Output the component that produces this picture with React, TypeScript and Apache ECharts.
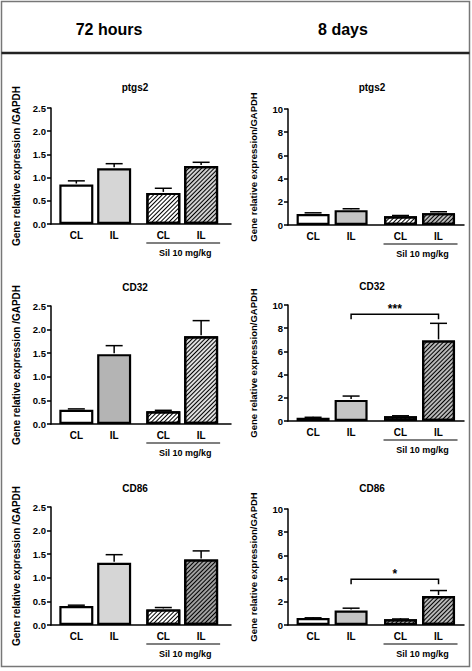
import React, { useEffect, useRef } from "react";
import * as echarts from "echarts";

// ---------- data ----------
const columnTitles = ["72 hours", "8 days"];
const geneNames = ["ptgs2", "CD32", "CD86"];
const barLabels = ["CL", "IL", "CL", "IL"];
const barPositions = [0, 1, 2.3, 3.3];
const treatmentLabel = "Sil 10 mg/kg";
const treatmentRange = [2.3, 3.3];

// 72 hours (means / upper end of error bar)
const ptgs2_72h = [0.85, 1.2, 0.67, 1.25];
const ptgs2_72h_err = [0.93, 1.3, 0.77, 1.33];
const cd32_72h = [0.3, 1.48, 0.27, 1.86];
const cd32_72h_err = [0.32, 1.66, 0.29, 2.19];
const cd86_72h = [0.4, 1.32, 0.33, 1.39];
const cd86_72h_err = [0.42, 1.49, 0.37, 1.57];

// 8 days
const ptgs2_8d = [0.95, 1.28, 0.76, 1.02];
const ptgs2_8d_err = [1.05, 1.4, 0.82, 1.14];
const cd32_8d = [0.28, 1.82, 0.4, 6.95];
const cd32_8d_err = [0.32, 2.15, 0.45, 8.42];
const cd86_8d = [0.6, 1.25, 0.5, 2.5];
const cd86_8d_err = [0.62, 1.45, 0.52, 2.97];

// y axes
const yMax72h = 2.5;
const yStep72h = 0.5;
const yMax8d = 10;
const yStep8d = 2;

// significance brackets: [fromPos, toPos, yValue]
const cd32_8d_bracket = [1, 3.3, 9.2];
const cd32_8d_sig = "***";
const cd86_8d_bracket = [1, 3.3, 3.95];
const cd86_8d_sig = "*";

const yName72h = "Gene relative expression /GAPDH";
const yName8d = "Gene relative expression/GAPDH";

// ---------- layout / styles ----------
const FONT = '"Liberation Sans", Arial, sans-serif';
const W = 472;
const H = 671;

type Panel = {
  col: number;
  row: number;
  means: number[];
  errs: number[];
  ilColor: string;
  silIlColor: string;
  bracket?: number[];
  sig?: string;
};

const panels: Panel[] = [
  { col: 0, row: 0, means: ptgs2_72h, errs: ptgs2_72h_err, ilColor: "#d6d6d6", silIlColor: "#cfcfcf" },
  { col: 0, row: 1, means: cd32_72h, errs: cd32_72h_err, ilColor: "#b4b4b4", silIlColor: "#dedede" },
  { col: 0, row: 2, means: cd86_72h, errs: cd86_72h_err, ilColor: "#d6d6d6", silIlColor: "#a0a0a0" },
  { col: 1, row: 0, means: ptgs2_8d, errs: ptgs2_8d_err, ilColor: "#c4c4c4", silIlColor: "#b8b8b8" },
  { col: 1, row: 1, means: cd32_8d, errs: cd32_8d_err, ilColor: "#c4c4c4", silIlColor: "#b8b8b8", bracket: cd32_8d_bracket, sig: cd32_8d_sig },
  { col: 1, row: 2, means: cd86_8d, errs: cd86_8d_err, ilColor: "#c4c4c4", silIlColor: "#b8b8b8", bracket: cd86_8d_bracket, sig: cd86_8d_sig },
];

const colLayout = [
  { left: 51, width: 180, xMin: -0.67, xMax: 4.09, titleX: 135, yMax: yMax72h, step: yStep72h, yName: yName72h, nameSize: 10, barW: 34 },
  { left: 288, width: 176, xMin: -0.66, xMax: 3.97, titleX: 372, yMax: yMax8d, step: yStep8d, yName: yName8d, nameSize: 9.5, barW: 33 },
];
const rowLayout = [
  [{ top: 108, height: 116, titleY: 87 }, { top: 109, height: 116, titleY: 87 }],
  [{ top: 306, height: 118, titleY: 287 }, { top: 305, height: 116, titleY: 286 }],
  [{ top: 507, height: 118, titleY: 488 }, { top: 509, height: 116, titleY: 488 }],
];

const hatch = {
  symbol: "rect",
  symbolSize: 1,
  color: "#000",
  dashArrayX: [1, 0],
  dashArrayY: [1, 2],
  rotation: -Math.PI / 4,
};

function buildOption() {
  const grid: any[] = [];
  const xAxis: any[] = [];
  const yAxis: any[] = [];
  const series: any[] = [];
  const graphic: any[] = [];

  graphic.push({
    type: "rect",
    shape: { x: 1.5, y: 1.5, width: 468, height: 665 },
    style: { fill: "none", stroke: "#777", lineWidth: 1.5 },
  });
  graphic.push({
    type: "line",
    shape: { x1: 1.5, y1: 53, x2: 469.5, y2: 53 },
    style: { stroke: "#222", lineWidth: 2.5 },
  });
  columnTitles.forEach((t, i) => {
    graphic.push({
      type: "text",
      x: i === 0 ? 109 : 343,
      y: 29,
      style: { text: t, fill: "#000", font: `bold 16px ${FONT}`, align: "center", verticalAlign: "middle" },
    });
  });

  panels.forEach((p, i) => {
    const c = colLayout[p.col];
    const r = rowLayout[p.row][p.col];
    grid.push({ left: c.left, top: r.top, width: c.width, height: r.height, containLabel: false });
    graphic.push({
      type: "text",
      x: c.titleX,
      y: r.titleY,
      style: { text: geneNames[p.row], fill: "#000", font: `bold 10px ${FONT}`, align: "center", verticalAlign: "middle" },
    });
    xAxis.push({
      type: "value",
      gridIndex: i,
      min: c.xMin,
      max: c.xMax,
      splitLine: { show: false },
      axisTick: { show: false },
      axisLine: { show: true, onZero: false, lineStyle: { color: "#000", width: 1.5 } },
      axisLabel: {
        show: true,
        customValues: barPositions,
        margin: 6,
        color: "#000",
        fontWeight: "bold",
        fontSize: 10,
        fontFamily: FONT,
        formatter: (v: number) => {
          let best = 0;
          barPositions.forEach((bp, k) => {
            if (Math.abs(bp - v) < Math.abs(barPositions[best] - v)) best = k;
          });
          return barLabels[best];
        },
      },
    });
    yAxis.push({
      type: "value",
      gridIndex: i,
      min: 0,
      max: c.yMax,
      interval: c.step,
      name: c.yName,
      nameLocation: "middle",
      nameRotate: 90,
      nameGap: 30,
      nameTextStyle: { color: "#000", fontWeight: "bold", fontSize: c.nameSize, fontFamily: FONT },
      splitLine: { show: false },
      axisLine: { show: true, onZero: false, lineStyle: { color: "#000", width: 1.5 } },
      axisTick: { show: true, length: 4, lineStyle: { color: "#000", width: 1.5 } },
      axisLabel: {
        margin: 5,
        color: "#000",
        fontWeight: "bold",
        fontSize: 9.5,
        fontFamily: FONT,
        formatter: (v: number) => (c.yMax < 5 ? v.toFixed(1) : String(v)),
      },
    });

    const fills = [
      { color: "#fff" },
      { color: p.ilColor },
      { color: "#fff", decal: hatch },
      { color: p.silIlColor, decal: hatch },
    ];
    series.push({
      type: "bar",
      xAxisIndex: i,
      yAxisIndex: i,
      barWidth: c.barW,
      itemStyle: { borderColor: "#000", borderWidth: 2 },
      data: p.means.map((m, k) => ({
        value: [barPositions[k], m],
        itemStyle: { color: fills[k].color, decal: fills[k].decal, borderColor: "#000", borderWidth: 2.2 },
      })),
      z: 2,
    });
    series.push({
      type: "custom",
      xAxisIndex: i,
      yAxisIndex: i,
      encode: { x: 0, y: [1, 2] },
      data: p.means.map((m, k) => [barPositions[k], m, p.errs[k]]),
      renderItem: (params: any, api: any) => {
        const b = api.coord([api.value(0), api.value(1)]);
        const t = api.coord([api.value(0), api.value(2)]);
        const st = { stroke: "#000", lineWidth: 1.5 };
        return {
          type: "group",
          children: [
            { type: "line", shape: { x1: b[0], y1: b[1] - 1, x2: t[0], y2: t[1] }, style: st },
            { type: "line", shape: { x1: t[0] - 8.5, y1: t[1], x2: t[0] + 8.5, y2: t[1] }, style: st },
          ],
        };
      },
      z: 3,
    });
    series.push({
      type: "custom",
      xAxisIndex: i,
      yAxisIndex: i,
      encode: { x: [0, 1] },
      data: [[treatmentRange[0], treatmentRange[1]]],
      renderItem: (params: any, api: any) => {
        const a = api.coord([api.value(0), 0]);
        const b = api.coord([api.value(1), 0]);
        const x1 = a[0] - 17;
        const x2 = b[0] + 19;
        return {
          type: "group",
          children: [
            { type: "line", shape: { x1, y1: a[1] + 19, x2, y2: a[1] + 19 }, style: { stroke: "#000", lineWidth: 1.2 } },
            {
              type: "text",
              x: (x1 + x2) / 2 + 2,
              y: a[1] + 29,
              style: { text: treatmentLabel, fill: "#000", font: `bold 9px ${FONT}`, align: "center", verticalAlign: "middle" },
            },
          ],
        };
      },
      z: 3,
    });
    if (p.bracket) {
      const sig = p.sig || "";
      series.push({
        type: "custom",
        xAxisIndex: i,
        yAxisIndex: i,
        encode: { x: [0, 1], y: 2 },
        data: [p.bracket],
        renderItem: (params: any, api: any) => {
          const a = api.coord([api.value(0), api.value(2)]);
          const b = api.coord([api.value(1), api.value(2)]);
          return {
            type: "group",
            children: [
              {
                type: "polyline",
                shape: { points: [[a[0], a[1] + 5], [a[0], a[1]], [b[0], b[1]], [b[0], b[1] + 5]] },
                style: { stroke: "#000", lineWidth: 1.5, fill: "none" },
              },
              {
                type: "text",
                x: (a[0] + b[0]) / 2,
                y: a[1] - 5,
                style: { text: sig, fill: "#000", font: `bold 12px ${FONT}`, align: "center", verticalAlign: "middle" },
              },
            ],
          };
        },
        z: 3,
      });
    }
  });

  return {
    animation: false,
    backgroundColor: "#fff",
    textStyle: { fontFamily: FONT },
    grid,
    xAxis,
    yAxis,
    series,
    graphic,
  };
}

export default function App() {
  const ref = useRef<HTMLDivElement>(null);
  useEffect(() => {
    if (!ref.current) return;
    const chart = echarts.init(ref.current, undefined, { renderer: "svg" });
    chart.setOption(buildOption() as any);
    return () => chart.dispose();
  }, []);
  return <div ref={ref} style={{ position: "absolute", left: 0, top: 0, width: W, height: H }} />;
}
